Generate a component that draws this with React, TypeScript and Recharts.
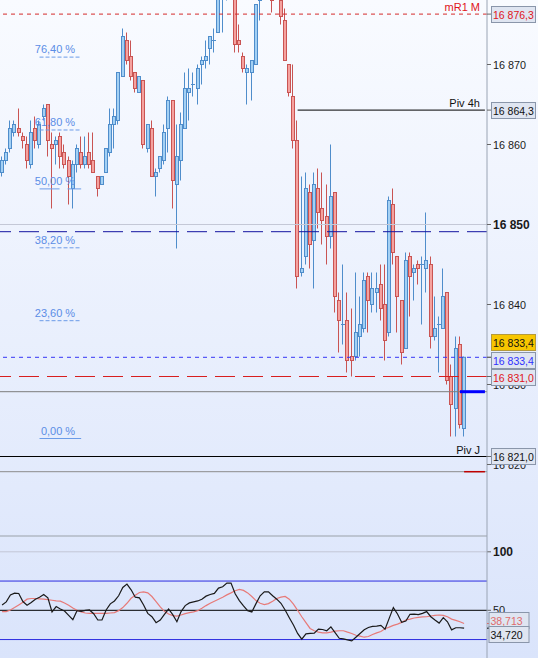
import { ComposedChart, Bar, Line, XAxis, YAxis, ReferenceLine } from "recharts"

const W = 538
const H = 658
const BASE = 16850

// candles, in points above (or below) 16 850
const opens = [
  6.5, 8.0, 9.5, 11.5, 12.0, 11.0, 10.0, 7.5, 12.0, 10.0,
  13.5, 15.0, 10.0, 10.0, 11.0, 9.0, 8.0, 4.5, 7.5, 9.0,
  7.5, 9.0, 8.0, 6.0, 5.0, 6.5, 9.0, 12.5, 13.0, 18.5,
  23.0, 21.0, 19.0, 16.5, 18.0, 9.5, 12.0, 6.0, 7.0, 8.0,
  12.0, 15.5, 5.0, 8.0, 12.0, 16.5, 17.5, 17.0, 20.0, 20.5,
  22.0, 23.0, 24.0, 29.5, 30.5, 32.0, 31.0, 23.0, 21.0, 19.0,
  19.0, 20.0, 28.0, 30.0, 31.5, 30.0, 29.0, 28.0, 25.5, 20.0,
  16.0, 10.5, -6.0, -4.0, 4.0, -2.0, 4.5, 2.0, 1.0, -1.5,
  4.0, -9.5, -12.5, -12.0, -16.5, -16.5, -14.0, -13.0, -6.5, -10.0,
  -8.5, -7.5, -10.0, -13.5, 2.5, -4.0, -9.5, -15.5, -4.0, -6.0,
  -5.0, -5.0, -5.5, -5.0, -14.0, -12.5, -13.0, -8.5, -19.0, -23.0,
  -15.0, -25.5,
]
const highs = [
  8.5, 9.5, 13.0, 13.0, 14.5, 11.5, 11.0, 13.0, 13.5, 13.0,
  15.0, 15.0, 11.5, 11.0, 11.5, 10.0, 8.5, 8.0, 10.0, 11.0,
  11.0, 11.5, 11.5, 6.0, 6.0, 9.5, 14.5, 14.5, 19.0, 24.5,
  24.0, 23.0, 19.0, 18.5, 18.0, 12.5, 13.0, 7.0, 8.5, 12.5,
  16.0, 15.5, 12.5, 14.0, 19.0, 19.5, 19.0, 20.0, 21.0, 23.0,
  23.5, 24.5, 31.0, 32.0, 33.0, 34.0, 31.5, 25.0, 21.5, 20.0,
  20.5, 27.5, 31.0, 32.0, 33.0, 31.0, 31.0, 28.5, 27.0, 20.0,
  20.0, 13.0, 6.0, 6.5, 5.0, 6.5, 7.0, 6.5, 5.0, 10.0,
  4.0, -8.5, -5.0, -8.5, -10.5, -6.0, -9.0, -6.0, -6.0, -6.0,
  -6.0, -5.0, -5.0, 3.5, 4.5, -4.0, -9.5, -3.5, -3.5, -5.0,
  -4.5, -4.0, 1.5, -4.0, -9.0, -11.5, -5.5, -8.5, -17.5, -14.0,
  -14.0, -16.5,
]
const lows = [
  6.0, 7.5, 9.0, 11.0, 11.0, 9.5, 7.0, 7.0, 9.5, 9.5,
  13.0, 8.5, 2.0, 7.5, 7.0, 7.0, 2.5, 2.0, 6.5, 7.0,
  7.0, 7.0, 6.5, 3.5, 5.0, 6.5, 8.5, 9.5, 12.5, 18.5,
  20.0, 18.0, 16.5, 16.5, 9.5, 9.0, 6.0, 3.5, 6.5, 7.5,
  9.0, 2.0, -3.0, 5.5, 12.0, 13.0, 16.0, 15.0, 17.5, 19.5,
  20.0, 21.5, 24.0, 24.0, 28.0, 30.0, 21.5, 21.5, 19.0, 15.0,
  15.5, 20.0, 25.5, 29.0, 29.5, 26.5, 28.5, 25.0, 20.5, 16.0,
  9.5, -8.0, -6.5, -5.0, -5.5, -8.0, -0.5, -2.5, -5.0, -3.0,
  -11.0, -16.0, -15.0, -18.5, -19.0, -17.0, -16.5, -13.5, -13.5, -11.0,
  -11.0, -12.0, -17.0, -14.0, -5.0, -13.5, -17.5, -15.5, -11.5, -9.5,
  -7.5, -12.5, -8.5, -15.5, -14.5, -18.5, -13.0, -20.0, -26.5, -26.5,
  -25.5, -26.5,
]
const closes = [
  8.0, 9.0, 12.0, 12.5, 11.5, 10.5, 8.0, 11.5, 10.5, 12.5,
  14.5, 10.5, 9.5, 10.5, 8.5, 7.5, 6.0, 7.5, 9.5, 7.5,
  8.5, 7.5, 6.5, 4.5, 6.0, 9.5, 12.5, 13.5, 19.0, 23.5,
  20.5, 18.5, 17.0, 18.5, 10.0, 12.5, 6.0, 6.5, 8.5, 11.5,
  15.5, 5.5, 8.5, 12.5, 17.0, 17.0, 17.5, 19.5, 20.5, 21.0,
  23.5, 23.0, 30.0, 31.0, 32.0, 31.0, 22.5, 22.5, 19.5, 19.5,
  20.5, 27.5, 30.0, 31.5, 30.0, 28.0, 30.0, 26.0, 20.5, 16.5,
  10.5, -6.5, -5.5, 4.5, -2.5, 5.0, 1.5, 0.5, -1.5, 3.5,
  -9.0, -12.0, -12.5, -17.0, -17.0, -13.5, -12.5, -7.0, -9.5, -8.0,
  -8.0, -10.5, -14.5, 3.0, -3.5, -9.0, -16.0, -4.5, -6.5, -5.5,
  -5.5, -5.0, -4.5, -14.0, -13.0, -12.5, -9.0, -19.5, -22.5, -15.5,
  -25.0, -16.6,
]

// oscillator (black) and its average (red)
const rsi = [
  54.6, 57.2, 63.2, 64.7, 64.4, 57.5, 54.3, 56.6, 59.5, 61.2,
  63.5, 60.6, 48.6, 53.2, 51.1, 49.4, 45.7, 42.0, 49.7, 49.1,
  50.0, 50.3, 47.1, 41.7, 41.7, 50.3, 55.5, 58.0, 62.4, 69.5,
  72.4, 67.5, 61.2, 60.6, 54.6, 47.4, 44.5, 39.4, 41.7, 46.6,
  51.1, 46.3, 40.2, 48.9, 54.0, 56.3, 57.2, 58.0, 59.5, 62.1,
  63.5, 64.4, 69.0, 70.1, 73.3, 73.3, 64.1, 58.3, 53.7, 49.7,
  48.6, 55.7, 62.4, 65.8, 65.8, 62.4, 59.5, 56.0, 50.3, 43.7,
  37.4, 30.2, 25.3, 29.9, 30.2, 30.5, 33.9, 33.6, 32.5, 35.9,
  31.0, 26.1, 25.6, 24.7, 23.9, 27.0, 30.2, 33.3, 35.3, 36.2,
  36.5, 37.1, 33.9, 43.1, 52.3, 46.8, 39.7, 40.8, 46.6, 46.8,
  46.3, 47.4, 48.9, 44.5, 41.7, 39.1, 43.7, 40.2, 33.3, 35.1,
  35.1, 34.72,
]
const rsiSignal = [
  48.9, 48.9, 50.3, 52.3, 54.6, 56.9, 59.5, 60.1, 60.1, 59.8,
  59.5, 59.2, 58.6, 58.0, 57.8, 56.3, 54.3, 52.0, 50.0, 48.6,
  47.7, 47.4, 47.4, 47.4, 47.4, 47.4, 47.7, 48.0, 49.7, 52.3,
  56.0, 60.3, 62.9, 65.2, 65.8, 64.9, 61.8, 57.5, 52.9, 49.1,
  46.8, 45.4, 45.1, 46.0, 47.1, 48.0, 48.6, 49.7, 51.7, 54.0,
  56.0, 57.8, 59.5, 61.2, 63.2, 64.9, 66.7, 67.8, 67.0, 64.9,
  61.8, 58.3, 56.0, 54.9, 55.7, 57.8, 60.1, 61.2, 61.8, 59.5,
  55.2, 50.0, 44.5, 39.4, 34.5, 32.5, 31.3, 30.7, 30.7, 31.3,
  32.2, 32.5, 32.5, 31.3, 30.2, 28.7, 27.9, 27.0, 27.6, 29.3,
  30.7, 31.9, 34.2, 35.6, 37.1, 38.2, 39.7, 41.7, 42.5, 43.4,
  44.0, 44.3, 44.5, 45.1, 45.7, 46.0, 45.7, 44.5, 42.5, 41.4,
  40.2, 38.713,
]

const EMPTY_SLOTS = 5
const priceTicks = [16820, 16830, 16840, 16850, 16860, 16870]

const fibLow = 16823.25
const fibHigh = 16885.65
const fibRatios = [76.4, 61.8, 50, 38.2, 23.6, 0]

const mR1M = 16876.3
const piv4h = 16864.3
const pivJ = 16821.0
const lastPrice = 16833.4
const redLevel = 16831.0
const navyLevel = 16849.1
const closeLevel = 16829.1
const panelEdge = 16819.1

const rsiTop = 113.5
const rsiMax = 100
const rsiHigh = 75
const rsiMid = 50
const rsiLow = 25

const PRICE_DOMAIN = [16795.8125, 16878.0625]
const RSI_DOMAIN = [9.23, 571.62]

const FONT = "'Liberation Sans', Arial, sans-serif"

const data = Array.from({ length: opens.length + EMPTY_SLOTS }, (_, i) =>
  i < opens.length
    ? {
        i,
        open: BASE + opens[i],
        high: BASE + highs[i],
        low: BASE + lows[i],
        close: BASE + closes[i],
        range: [BASE + lows[i], BASE + highs[i]],
        rsi: rsi[i],
        signal: rsiSignal[i],
      }
    : { i }
)

const fmtPrice = (v: number, dec = 0) => {
  const [int, frac] = v.toFixed(dec).split(".")
  const grouped = int.slice(0, -3) + " " + int.slice(-3)
  return frac ? `${grouped},${frac}` : grouped
}

const Candle = (props: any) => {
  const { x, y, width, height, payload } = props
  if (!payload || payload.high == null || !Number.isFinite(y)) return null
  const { open, close, high, low } = payload
  const up = close >= open
  const top = Math.min(y, y + height)
  const h = Math.abs(height)
  const k = h / (high - low)
  const yAt = (v: number) => top + (high - v) * k
  const cx = Math.round(x + width / 2)
  const bodyTop = yAt(Math.max(open, close))
  const bodyBot = yAt(Math.min(open, close))
  const stroke = up ? "#4f8dcb" : "#c95453"
  const fill = up ? "#a3d0f4" : "#f5a29f"
  return (
    <g>
      <line x1={cx - 0.5} x2={cx - 0.5} y1={top} y2={top + h} stroke={stroke} />
      {bodyBot - bodyTop < 1 ? (
        <line x1={cx - 2} x2={cx + 2} y1={bodyTop} y2={bodyTop} stroke={stroke} />
      ) : (
        <rect x={cx - 1.5} y={bodyTop} width={3} height={bodyBot - bodyTop} fill={fill} stroke={stroke} />
      )}
    </g>
  )
}

const PriceTick = ({ x, y, payload }: any) => {
  const bold = payload.value === 16850
  return (
    <text x={x} y={y} dy={4} fontSize={bold ? 12 : 10.8} fontWeight={bold ? 700 : 400} fill="#1a1a1a">
      {fmtPrice(payload.value)}
    </text>
  )
}

const FibLabel = ({ viewBox, text }: any) =>
  viewBox ? (
    <text x={viewBox.x + viewBox.width - 6} y={viewBox.y - 4} textAnchor="end" fontSize={11} fill="#5b8de6">
      {text}
    </text>
  ) : null

const LineName = ({ viewBox, text, color, inset = 7 }: any) =>
  viewBox ? (
    <text x={viewBox.x + viewBox.width - inset} y={viewBox.y - 3} textAnchor="end" fontSize={11} fill={color}>
      {text}
    </text>
  ) : null

const Tag = ({ viewBox, text, color, dy = 0, fill = "#dfe5f1", stroke = "#8a96aa", tick = "#666", gap = 4, w = 44 }: any) => {
  if (!viewBox) return null
  const r = viewBox.x + viewBox.width
  const y = viewBox.y
  const cy = Math.round(y + dy)
  return (
    <g>
      <line x1={r} x2={r + 4} y1={y} y2={y} stroke={tick} />
      <rect x={r + gap + 0.5} y={cy - 7.5} width={w} height={16} fill={fill} stroke={stroke} />
      <text x={r + gap + 2} y={cy + 4.5} fontSize={10.5} fill={color}>
        {text}
      </text>
    </g>
  )
}

const AxisLabel = ({ viewBox, text, bold }: any) => {
  if (!viewBox) return null
  const r = viewBox.x + viewBox.width
  const y = viewBox.y
  return (
    <g>
      <line x1={r} x2={r + 4} y1={y} y2={y} stroke="#666" />
      <text x={r + 6} y={y + 4} fontSize={bold ? 12 : 11} fontWeight={bold ? 700 : 400} fill="#1a1a1a">
        {text}
      </text>
    </g>
  )
}

const layer: React.CSSProperties = { position: "absolute", left: 0, top: 0 }

export default function App() {
  const lastIdx = opens.length - 1
  const edge = data.length - 1
  return (
    <div
      style={{
        ...layer,
        width: W,
        height: H,
        background: "linear-gradient(#f9fbff, #dae4fb)",
        fontFamily: FONT,
      }}
    >
      <div style={layer}>
        <ComposedChart width={W} height={H} data={data} margin={{ top: 0, right: 0, bottom: 0, left: 0 }}>
          <XAxis dataKey="i" hide />
          <YAxis
            yAxisId="price"
            orientation="right"
            width={51}
            domain={PRICE_DOMAIN}
            allowDataOverflow
            ticks={priceTicks}
            interval={0}
            tick={<PriceTick />}
            tickSize={4}
            tickMargin={2}
            axisLine={{ stroke: "#9aa4b4" }}
            tickLine={{ stroke: "#666" }}
          />
          <YAxis yAxisId="rsi" hide domain={RSI_DOMAIN} allowDataOverflow />

          <ReferenceLine yAxisId="price" y={16850} stroke="#c4c8d6" />
          {fibRatios.map((r) => {
            const level = fibLow + (r / 100) * (fibHigh - fibLow)
            const dash = r === 0 ? undefined : r === 50 ? "20 8" : "4 2"
            return (
              <ReferenceLine
                key={r}
                yAxisId="price"
                segment={[
                  { x: 9, y: level },
                  { x: 19, y: level },
                ]}
                stroke="#6b9be8"
                strokeDasharray={dash}
                label={<FibLabel text={`${r.toFixed(2).replace(".", ",")} %`} />}
              />
            )
          })}

          <Bar yAxisId="price" dataKey="range" shape={(p: any) => <Candle {...p} />} activeBar={false} isAnimationActive={false} />

          <ReferenceLine yAxisId="price" y={mR1M} stroke="#d42a2a" strokeDasharray="4 4" label={<LineName text="mR1 M" color="#e0141a" />} />
          <ReferenceLine
            yAxisId="price"
            segment={[
              { x: 71, y: piv4h },
              { x: edge, y: piv4h },
            ]}
            stroke="#000"
            label={<LineName text="Piv 4h" color="#111" inset={5} />}
          />
          <ReferenceLine yAxisId="price" y={navyLevel} stroke="#1414a0" strokeDasharray="20 8" />
          <ReferenceLine yAxisId="price" y={lastPrice} stroke="#3535f5" strokeDasharray="4 4" />
          <ReferenceLine yAxisId="price" y={redLevel} stroke="#d81e1e" strokeDasharray="20 8" />
          <ReferenceLine yAxisId="price" y={closeLevel} stroke="#7d7d7d" />
          <ReferenceLine
            yAxisId="price"
            segment={[
              { x: 110, y: closeLevel },
              { x: edge, y: closeLevel },
            ]}
            stroke="#0000ff"
            strokeWidth={3}
          />
          <ReferenceLine yAxisId="price" y={pivJ} stroke="#000" label={<LineName text="Piv J" color="#111" />} />
          <ReferenceLine yAxisId="price" y={panelEdge} stroke="#8c8c8c" />
          <ReferenceLine
            yAxisId="price"
            segment={[
              { x: 111, y: panelEdge },
              { x: edge, y: panelEdge },
            ]}
            stroke="#c00000"
            strokeWidth={1.5}
          />

          <ReferenceLine yAxisId="rsi" y={rsiTop} stroke="#9aa1a8" />
          <ReferenceLine yAxisId="rsi" y={rsiMax} stroke="#c2c6d6" label={<AxisLabel text="100" bold />} />
          <ReferenceLine yAxisId="rsi" y={rsiHigh} stroke="#2c2ce0" />
          <ReferenceLine yAxisId="rsi" y={rsiMid} stroke="#000" label={<AxisLabel text="50" />} />
          <ReferenceLine yAxisId="rsi" y={rsiLow} stroke="#2c2ce0" />

          <Line yAxisId="rsi" dataKey="signal" stroke="#e77a78" strokeWidth={1.2} dot={false} activeDot={false} isAnimationActive={false} />
          <Line yAxisId="rsi" dataKey="rsi" stroke="#1a1a1a" strokeWidth={1.2} dot={false} activeDot={false} isAnimationActive={false} />
        </ComposedChart>
      </div>

      {/* price tags sit above the axis labels, as in the original */}
      <div style={{ ...layer, pointerEvents: "none" }}>
        <ComposedChart width={W} height={H} data={data} margin={{ top: 0, right: 0, bottom: 0, left: 0 }}>
          <XAxis dataKey="i" hide />
          <YAxis
            yAxisId="price"
            orientation="right"
            width={51}
            domain={PRICE_DOMAIN}
            allowDataOverflow
            tick={false}
            tickLine={false}
            axisLine={false}
          />
          <YAxis yAxisId="rsi" hide domain={RSI_DOMAIN} allowDataOverflow />
          <ReferenceLine yAxisId="price" y={mR1M} stroke="none" label={<Tag text={fmtPrice(mR1M, 1)} color="#e0141a" />} />
          <ReferenceLine yAxisId="price" y={piv4h} stroke="none" label={<Tag text={fmtPrice(piv4h, 1)} color="#111" />} />
          <ReferenceLine
            yAxisId="price"
            y={lastPrice}
            stroke="none"
            label={<Tag text={fmtPrice(lastPrice, 1)} color="#111" dy={-15} fill="#f7c600" stroke="#b49a3c" />}
          />
          <ReferenceLine yAxisId="price" y={lastPrice} stroke="none" label={<Tag text={fmtPrice(lastPrice, 1)} color="#3030ff" dy={3} />} />
          <ReferenceLine yAxisId="price" y={redLevel} stroke="none" label={<Tag text={fmtPrice(redLevel, 1)} color="#e0141a" />} />
          <ReferenceLine yAxisId="price" y={pivJ} stroke="none" label={<Tag text={fmtPrice(pivJ, 1)} color="#111" dy={-1} />} />
          <ReferenceLine
            yAxisId="rsi"
            y={rsiSignal[lastIdx]}
            stroke="none"
            label={<Tag text={rsiSignal[lastIdx].toFixed(3).replace(".", ",")} color="#e06b6b" tick="#e06b6b" dy={-3.5} gap={1.5} w={40} />}
          />
          <ReferenceLine
            yAxisId="rsi"
            y={rsi[lastIdx]}
            stroke="none"
            label={<Tag text={rsi[lastIdx].toFixed(3).replace(".", ",")} color="#111" tick="#111" dy={5.5} gap={1.5} w={40} />}
          />
        </ComposedChart>
      </div>
    </div>
  )
}
